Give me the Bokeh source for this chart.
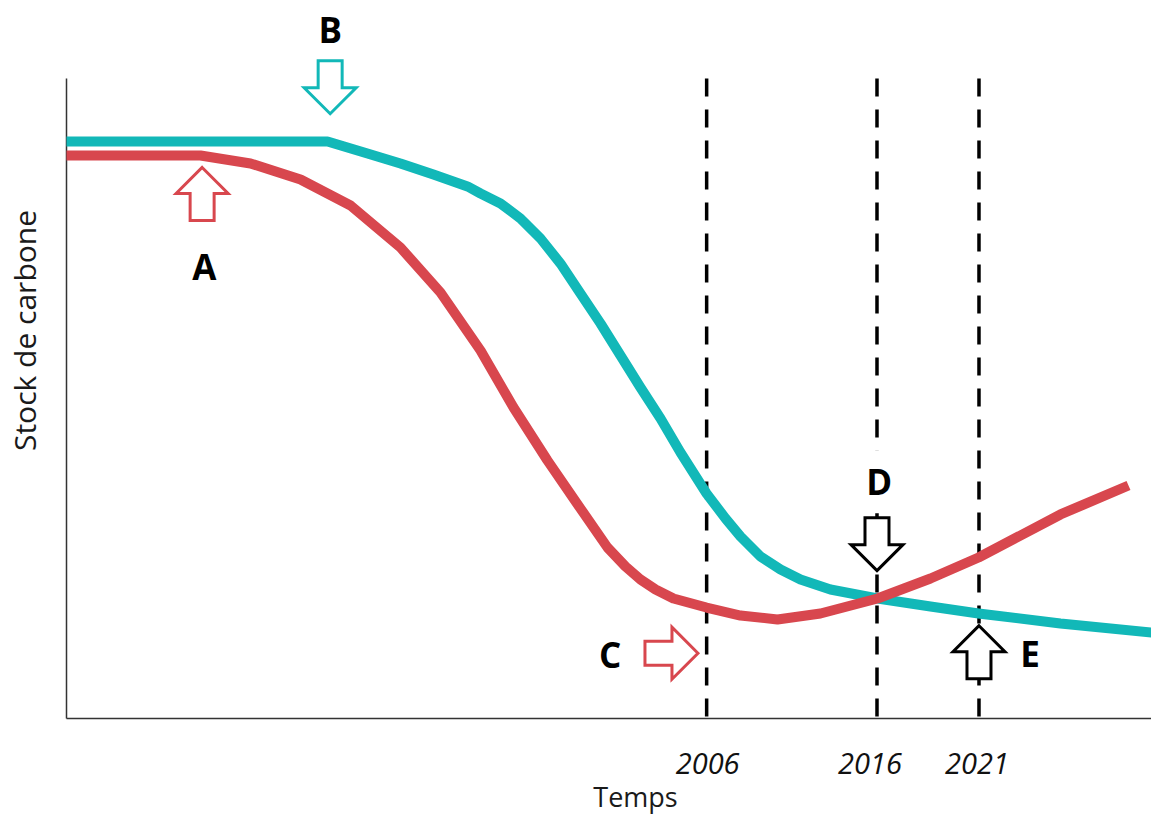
import math
from bokeh.plotting import figure
from bokeh.models import Range1d, Label
from bokeh.embed import file_html
from bokeh.resources import INLINE

# ---- data (time units 0-100, carbon stock units 0-100) ----
teal_t = [0.0, 24.06, 27.74, 30.78, 33.82, 36.96, 38.16, 40.00, 41.84, 43.69, 45.53, 47.37,
          49.22, 51.06, 52.90, 54.75, 56.59, 58.99, 60.74, 62.12, 63.96, 65.81, 67.65, 70.41,
          74.75, 79.63, 84.06, 91.61, 100.0]
teal_s = [90.16, 90.16, 88.28, 86.72, 85.0, 83.13, 82.03, 80.47, 78.13, 75.0, 71.09, 66.41,
          61.72, 56.72, 51.72, 46.88, 41.56, 35.16, 31.25, 28.44, 25.31, 23.28, 21.72, 20.16,
          18.75, 17.5, 16.41, 14.84, 13.44]

red_t = [0.0, 12.35, 16.96, 21.57, 26.18, 30.78, 34.47, 38.16, 41.20, 44.33, 47.37, 49.86,
         51.52, 52.90, 54.29, 55.94, 58.99, 62.12, 65.53, 69.49, 74.75, 79.63, 84.06, 91.61, 97.88]
red_s = [87.97, 87.97, 86.72, 84.22, 80.16, 73.59, 66.56, 57.5, 48.59, 40.31, 32.81, 26.72,
         23.75, 21.72, 20.16, 18.75, 17.34, 16.09, 15.47, 16.41, 18.75, 21.88, 25.16, 31.88, 36.41]

years = ["2006", "2016", "2021"]
year_t = [59.0, 74.7, 84.1]
year_label_shift_px = [1, -7, -2]

# markers: letter, letter position, arrow tip, arrow direction
mark_names = ["A", "B", "C", "D", "E"]
mark_label_t = [12.7, 24.3, 50.1, 74.9, 88.8]
mark_label_s = [70.6, 107.66, 9.95, 37.0, 10.1]
mark_opaque = [False, False, False, True, False]
arrow_tip_t = [12.5, 24.3, 58.2, 74.7, 84.1]
arrow_tip_s = [86.1, 94.5, 10.2, 23.1, 14.5]
arrow_dir = ["up", "down", "right", "down", "up"]

TEAL = "#12b8b8"
RED = "#d8474e"
arrow_color = [RED, TEAL, RED, "black", "black"]

x_title = "Temps"
y_title = "Stock de carbone"

# ---- figure: the plotting frame covers the whole canvas ----
W, H = 1151, 816
AXIS_LEFT_PX, AXIS_BOTTOM_PX = 66, 718
kx = (W - AXIS_LEFT_PX) / 100.0   # px per time unit
ky = 6.4                          # px per stock unit

x_range = Range1d(-AXIS_LEFT_PX / kx, 100.0)
y_range = Range1d(-(H - AXIS_BOTTOM_PX) / ky, AXIS_BOTTOM_PX / ky)

p = figure(width=W, height=H, x_range=x_range, y_range=y_range,
           output_backend="svg", toolbar_location=None,
           min_border=0, min_border_left=0, min_border_right=0,
           min_border_top=0, min_border_bottom=0)
p.outline_line_color = None
p.xgrid.visible = False
p.ygrid.visible = False
p.axis.visible = False
p.background_fill_color = "white"
p.border_fill_color = "white"

# axis lines
p.line([0, 0], [100, 0], line_color="#333333", line_width=1.5)
p.line([0, 100], [0, 0], line_color="#333333", line_width=1.5)

# dashed reference lines
for t in year_t:
    p.line([t, t], [100, 0], line_color="black", line_width=3.5, line_dash="18 13")

# curves
p.line(teal_t, teal_s, line_color=TEAL, line_width=10, line_join="round")
p.line(red_t, red_s, line_color=RED, line_width=10, line_join="round")

# hollow block arrows
def arrow_poly(tx, ty, d, length=53, head_len=26, head_w=52, shaft_w=24):
    pts = [(0, 0), (-head_len, head_w / 2), (-head_len, shaft_w / 2), (-length, shaft_w / 2),
           (-length, -shaft_w / 2), (-head_len, -shaft_w / 2), (-head_len, -head_w / 2)]
    xs, ys = [], []
    for u, v in pts:
        if d == "up":
            dx, dy = v, u
        elif d == "down":
            dx, dy = v, -u
        elif d == "right":
            dx, dy = u, v
        else:
            dx, dy = -u, v
        xs.append(tx + dx / kx)
        ys.append(ty + dy / ky)
    return xs, ys

axs, ays = [], []
for tx, ty, d in zip(arrow_tip_t, arrow_tip_s, arrow_dir):
    xs, ys = arrow_poly(tx, ty, d)
    axs.append(xs)
    ays.append(ys)

# letters
for name, lt, ls, opaque in zip(mark_names, mark_label_t, mark_label_s, mark_opaque):
    lab = Label(x=lt, y=ls, text=name, text_font="Open Sans", text_font_style="bold",
                text_font_size="35px", text_align="center", text_baseline="middle",
                text_color="black")
    if opaque:
        lab.background_fill_color = "white"
        lab.padding = 8
    p.add_layout(lab)

p.patches(axs, ays, fill_color="white", line_color=arrow_color, line_width=3, line_join="miter")

# year labels under the axis
for yr, t, dx in zip(years, year_t, year_label_shift_px):
    p.add_layout(Label(x=t, y=-45 / ky, x_offset=dx, text=yr, text_font="Open Sans",
                       text_font_style="italic", text_font_size="29px", text_align="center",
                       text_baseline="middle", text_color="#111111"))

# axis titles
p.add_layout(Label(x=-42 / kx, y=(AXIS_BOTTOM_PX - 330) / ky, text=y_title, angle=math.pi / 2,
                   text_font="Open Sans", text_font_size="30px", text_align="center",
                   text_baseline="middle", text_color="#1a1a1a"))
p.add_layout(Label(x=(635 - AXIS_LEFT_PX) / kx, y=-(796 - AXIS_BOTTOM_PX) / ky, text=x_title,
                   text_font="Open Sans", text_font_size="27px", text_align="center",
                   text_baseline="middle", text_color="#1a1a1a"))

open("out.html", "w").write(file_html(p, INLINE))
